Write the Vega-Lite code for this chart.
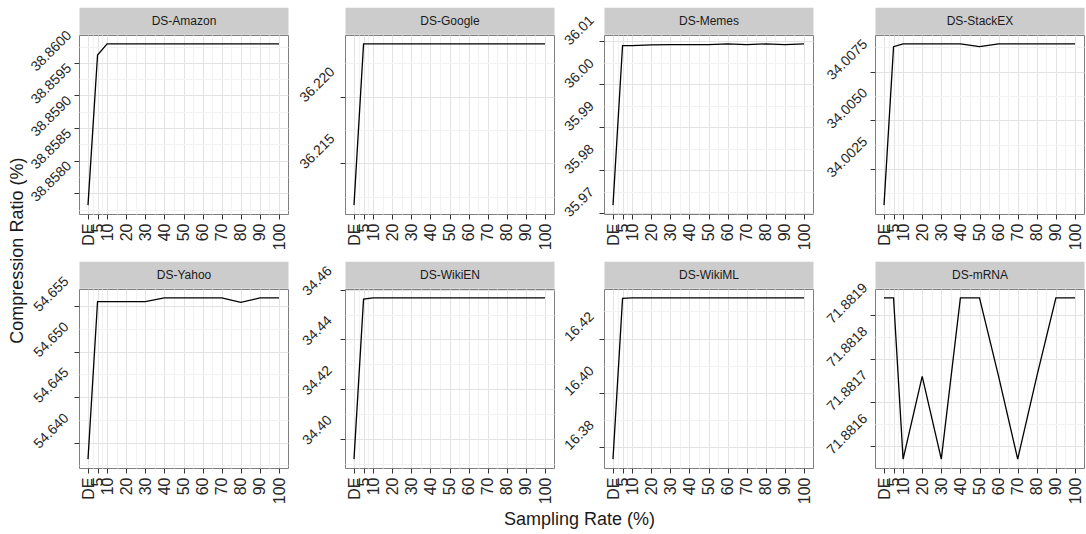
{
  "$schema": "https://vega.github.io/schema/vega-lite/v6.json",
  "padding": {"left": 8, "top": 6, "right": 1, "bottom": 3},
  "autosize": {"type": "pad"},
  "title": {"text": "Compression Ratio (%)", "orient": "left", "anchor": "middle", "fontSize": 18, "fontWeight": "normal", "color": "#1a1a1a", "offset": 0, "dx": 17},
  "datasets": {
    "d": [
      {"panel": "DS-Amazon", "rate": 0, "ratio": 38.85782},
      {"panel": "DS-Amazon", "rate": 5, "ratio": 38.86012},
      {"panel": "DS-Amazon", "rate": 10, "ratio": 38.86029},
      {"panel": "DS-Amazon", "rate": 20, "ratio": 38.86029},
      {"panel": "DS-Amazon", "rate": 30, "ratio": 38.86029},
      {"panel": "DS-Amazon", "rate": 40, "ratio": 38.86029},
      {"panel": "DS-Amazon", "rate": 50, "ratio": 38.86029},
      {"panel": "DS-Amazon", "rate": 60, "ratio": 38.86029},
      {"panel": "DS-Amazon", "rate": 70, "ratio": 38.86029},
      {"panel": "DS-Amazon", "rate": 80, "ratio": 38.86029},
      {"panel": "DS-Amazon", "rate": 90, "ratio": 38.86029},
      {"panel": "DS-Amazon", "rate": 100, "ratio": 38.86029},
      {"panel": "DS-Google", "rate": 0, "ratio": 36.21187},
      {"panel": "DS-Google", "rate": 5, "ratio": 36.22395},
      {"panel": "DS-Google", "rate": 10, "ratio": 36.22395},
      {"panel": "DS-Google", "rate": 20, "ratio": 36.22395},
      {"panel": "DS-Google", "rate": 30, "ratio": 36.22395},
      {"panel": "DS-Google", "rate": 40, "ratio": 36.22395},
      {"panel": "DS-Google", "rate": 50, "ratio": 36.22395},
      {"panel": "DS-Google", "rate": 60, "ratio": 36.22395},
      {"panel": "DS-Google", "rate": 70, "ratio": 36.22395},
      {"panel": "DS-Google", "rate": 80, "ratio": 36.22395},
      {"panel": "DS-Google", "rate": 90, "ratio": 36.22395},
      {"panel": "DS-Google", "rate": 100, "ratio": 36.22395},
      {"panel": "DS-Memes", "rate": 0, "ratio": 35.97184},
      {"panel": "DS-Memes", "rate": 5, "ratio": 36.00901},
      {"panel": "DS-Memes", "rate": 10, "ratio": 36.00901},
      {"panel": "DS-Memes", "rate": 20, "ratio": 36.00916},
      {"panel": "DS-Memes", "rate": 30, "ratio": 36.00924},
      {"panel": "DS-Memes", "rate": 40, "ratio": 36.00924},
      {"panel": "DS-Memes", "rate": 50, "ratio": 36.00924},
      {"panel": "DS-Memes", "rate": 60, "ratio": 36.00939},
      {"panel": "DS-Memes", "rate": 70, "ratio": 36.00924},
      {"panel": "DS-Memes", "rate": 80, "ratio": 36.00939},
      {"panel": "DS-Memes", "rate": 90, "ratio": 36.00924},
      {"panel": "DS-Memes", "rate": 100, "ratio": 36.00939},
      {"panel": "DS-StackEX", "rate": 0, "ratio": 34.00065},
      {"panel": "DS-StackEX", "rate": 5, "ratio": 34.00878},
      {"panel": "DS-StackEX", "rate": 10, "ratio": 34.00892},
      {"panel": "DS-StackEX", "rate": 20, "ratio": 34.00892},
      {"panel": "DS-StackEX", "rate": 30, "ratio": 34.00892},
      {"panel": "DS-StackEX", "rate": 40, "ratio": 34.00892},
      {"panel": "DS-StackEX", "rate": 50, "ratio": 34.00878},
      {"panel": "DS-StackEX", "rate": 60, "ratio": 34.00892},
      {"panel": "DS-StackEX", "rate": 70, "ratio": 34.00892},
      {"panel": "DS-StackEX", "rate": 80, "ratio": 34.00892},
      {"panel": "DS-StackEX", "rate": 90, "ratio": 34.00892},
      {"panel": "DS-StackEX", "rate": 100, "ratio": 34.00892},
      {"panel": "DS-Yahoo", "rate": 0, "ratio": 54.6382},
      {"panel": "DS-Yahoo", "rate": 5, "ratio": 54.6555},
      {"panel": "DS-Yahoo", "rate": 10, "ratio": 54.6555},
      {"panel": "DS-Yahoo", "rate": 20, "ratio": 54.6555},
      {"panel": "DS-Yahoo", "rate": 30, "ratio": 54.6555},
      {"panel": "DS-Yahoo", "rate": 40, "ratio": 54.6559},
      {"panel": "DS-Yahoo", "rate": 50, "ratio": 54.6559},
      {"panel": "DS-Yahoo", "rate": 60, "ratio": 54.6559},
      {"panel": "DS-Yahoo", "rate": 70, "ratio": 54.6559},
      {"panel": "DS-Yahoo", "rate": 80, "ratio": 54.6554},
      {"panel": "DS-Yahoo", "rate": 90, "ratio": 54.6559},
      {"panel": "DS-Yahoo", "rate": 100, "ratio": 54.6559},
      {"panel": "DS-WikiEN", "rate": 0, "ratio": 34.3919},
      {"panel": "DS-WikiEN", "rate": 5, "ratio": 34.4562},
      {"panel": "DS-WikiEN", "rate": 10, "ratio": 34.4567},
      {"panel": "DS-WikiEN", "rate": 20, "ratio": 34.4567},
      {"panel": "DS-WikiEN", "rate": 30, "ratio": 34.4567},
      {"panel": "DS-WikiEN", "rate": 40, "ratio": 34.4567},
      {"panel": "DS-WikiEN", "rate": 50, "ratio": 34.4567},
      {"panel": "DS-WikiEN", "rate": 60, "ratio": 34.4567},
      {"panel": "DS-WikiEN", "rate": 70, "ratio": 34.4567},
      {"panel": "DS-WikiEN", "rate": 80, "ratio": 34.4567},
      {"panel": "DS-WikiEN", "rate": 90, "ratio": 34.4567},
      {"panel": "DS-WikiEN", "rate": 100, "ratio": 34.4567},
      {"panel": "DS-WikiML", "rate": 0, "ratio": 16.3756},
      {"panel": "DS-WikiML", "rate": 5, "ratio": 16.4348},
      {"panel": "DS-WikiML", "rate": 10, "ratio": 16.435},
      {"panel": "DS-WikiML", "rate": 20, "ratio": 16.435},
      {"panel": "DS-WikiML", "rate": 30, "ratio": 16.435},
      {"panel": "DS-WikiML", "rate": 40, "ratio": 16.435},
      {"panel": "DS-WikiML", "rate": 50, "ratio": 16.435},
      {"panel": "DS-WikiML", "rate": 60, "ratio": 16.435},
      {"panel": "DS-WikiML", "rate": 70, "ratio": 16.435},
      {"panel": "DS-WikiML", "rate": 80, "ratio": 16.435},
      {"panel": "DS-WikiML", "rate": 90, "ratio": 16.435},
      {"panel": "DS-WikiML", "rate": 100, "ratio": 16.435},
      {"panel": "DS-mRNA", "rate": 0, "ratio": 71.88194},
      {"panel": "DS-mRNA", "rate": 5, "ratio": 71.88194},
      {"panel": "DS-mRNA", "rate": 10, "ratio": 71.88157},
      {"panel": "DS-mRNA", "rate": 20, "ratio": 71.88176},
      {"panel": "DS-mRNA", "rate": 30, "ratio": 71.88157},
      {"panel": "DS-mRNA", "rate": 40, "ratio": 71.88194},
      {"panel": "DS-mRNA", "rate": 50, "ratio": 71.88194},
      {"panel": "DS-mRNA", "rate": 60, "ratio": 71.88176},
      {"panel": "DS-mRNA", "rate": 70, "ratio": 71.88157},
      {"panel": "DS-mRNA", "rate": 80, "ratio": 71.88176},
      {"panel": "DS-mRNA", "rate": 90, "ratio": 71.88194},
      {"panel": "DS-mRNA", "rate": 100, "ratio": 71.88194}
    ]
  },
  "vconcat": [
    {
      "title": {"text": "Sampling Rate (%)", "orient": "bottom", "anchor": "middle", "fontSize": 18, "fontWeight": "normal", "color": "#1a1a1a", "offset": 1, "dx": 24},
      "columns": 4,
      "spacing": 0,
      "align": "each",
      "concat": [
        {
          "width": 209, "height": 179,
          "data": {"name": "d"},
          "transform": [{"filter": "datum.panel === 'DS-Amazon'"}],
          "layer": [
            {"mark": {"type": "line", "opacity": 0},
             "encoding": {
               "x": {"field": "rate", "type": "quantitative", "scale": {"zero": false, "nice": false, "padding": 9},
                     "axis": {"orient": "top", "values": [2.5, 7.5, 15, 25, 35, 45, 55, 65, 75, 85, 95], "grid": true, "gridColor": "#f2f2f2", "gridWidth": 1.2, "ticks": false, "labels": false, "domain": true, "domainColor": "#cccccc", "domainWidth": 27, "offset": 14.25, "minExtent": 13.5, "title": "DS-Amazon", "titlePadding": -13.5, "titleBaseline": "middle", "titleFontSize": 12, "titleFontWeight": "normal", "titleColor": "#1a1a1a"}},
               "y": {"field": "ratio", "type": "quantitative", "scale": {"zero": false, "nice": false, "padding": 8.9},
                     "axis": {"orient": "left", "values": [38.85775, 38.85825, 38.85875, 38.85925, 38.85975, 38.86025], "grid": true, "gridColor": "#f2f2f2", "gridWidth": 1.2, "ticks": false, "labels": false, "domain": false, "title": null}}
             }},
            {"mark": {"type": "line", "color": "#000000", "strokeWidth": 1.3},
             "encoding": {
               "x": {"field": "rate", "type": "quantitative", "scale": {"zero": false, "nice": false, "padding": 9},
                     "axis": {"orient": "bottom", "values": [0, 5, 10, 20, 30, 40, 50, 60, 70, 80, 90, 100], "labelExpr": "datum.value === 0 ? 'DE' : datum.label", "labelAngle": -90, "labelAlign": "right", "labelBaseline": "middle", "labelPadding": 4, "labelFontSize": 16, "tickSize": 5, "grid": true, "title": null, "minExtent": 44.8}},
               "y": {"field": "ratio", "type": "quantitative", "scale": {"zero": false, "nice": false, "padding": 8.9},
                     "axis": {"orient": "left", "values": [38.858, 38.8585, 38.859, 38.8595, 38.86], "format": ".4f", "labelAngle": -45, "labelAlign": "center", "labelBaseline": "middle", "labelPadding": 23, "labelOffset": -12, "labelFontSize": 14, "tickSize": 5, "grid": true, "title": null, "minExtent": 52}}
             }}
          ],
          "resolve": {"axis": {"x": "independent", "y": "independent"}}
        },
        {
          "width": 209, "height": 179,
          "data": {"name": "d"},
          "transform": [{"filter": "datum.panel === 'DS-Google'"}],
          "layer": [
            {"mark": {"type": "line", "opacity": 0},
             "encoding": {
               "x": {"field": "rate", "type": "quantitative", "scale": {"zero": false, "nice": false, "padding": 9},
                     "axis": {"orient": "top", "values": [2.5, 7.5, 15, 25, 35, 45, 55, 65, 75, 85, 95], "grid": true, "gridColor": "#f2f2f2", "gridWidth": 1.2, "ticks": false, "labels": false, "domain": true, "domainColor": "#cccccc", "domainWidth": 27, "offset": 14.25, "minExtent": 13.5, "title": "DS-Google", "titlePadding": -13.5, "titleBaseline": "middle", "titleFontSize": 12, "titleFontWeight": "normal", "titleColor": "#1a1a1a"}},
               "y": {"field": "ratio", "type": "quantitative", "scale": {"zero": false, "nice": false, "padding": 8.9},
                     "axis": {"orient": "left", "values": [36.2125, 36.2175, 36.2225], "grid": true, "gridColor": "#f2f2f2", "gridWidth": 1.2, "ticks": false, "labels": false, "domain": false, "title": null}}
             }},
            {"mark": {"type": "line", "color": "#000000", "strokeWidth": 1.3},
             "encoding": {
               "x": {"field": "rate", "type": "quantitative", "scale": {"zero": false, "nice": false, "padding": 9},
                     "axis": {"orient": "bottom", "values": [0, 5, 10, 20, 30, 40, 50, 60, 70, 80, 90, 100], "labelExpr": "datum.value === 0 ? 'DE' : datum.label", "labelAngle": -90, "labelAlign": "right", "labelBaseline": "middle", "labelPadding": 4, "labelFontSize": 16, "tickSize": 5, "grid": true, "title": null, "minExtent": 44.8}},
               "y": {"field": "ratio", "type": "quantitative", "scale": {"zero": false, "nice": false, "padding": 8.9},
                     "axis": {"orient": "left", "values": [36.215, 36.22], "format": ".3f", "labelAngle": -45, "labelAlign": "center", "labelBaseline": "middle", "labelPadding": 23, "labelOffset": -12, "labelFontSize": 14, "tickSize": 5, "grid": true, "title": null, "minExtent": 54.8}}
             }}
          ],
          "resolve": {"axis": {"x": "independent", "y": "independent"}}
        },
        {
          "width": 209, "height": 179,
          "data": {"name": "d"},
          "transform": [{"filter": "datum.panel === 'DS-Memes'"}],
          "layer": [
            {"mark": {"type": "line", "opacity": 0},
             "encoding": {
               "x": {"field": "rate", "type": "quantitative", "scale": {"zero": false, "nice": false, "padding": 9},
                     "axis": {"orient": "top", "values": [2.5, 7.5, 15, 25, 35, 45, 55, 65, 75, 85, 95], "grid": true, "gridColor": "#f2f2f2", "gridWidth": 1.2, "ticks": false, "labels": false, "domain": true, "domainColor": "#cccccc", "domainWidth": 27, "offset": 14.25, "minExtent": 13.5, "title": "DS-Memes", "titlePadding": -13.5, "titleBaseline": "middle", "titleFontSize": 12, "titleFontWeight": "normal", "titleColor": "#1a1a1a"}},
               "y": {"field": "ratio", "type": "quantitative", "scale": {"zero": false, "nice": false, "padding": 8.9},
                     "axis": {"orient": "left", "values": [35.975, 35.985, 35.995, 36.005], "grid": true, "gridColor": "#f2f2f2", "gridWidth": 1.2, "ticks": false, "labels": false, "domain": false, "title": null}}
             }},
            {"mark": {"type": "line", "color": "#000000", "strokeWidth": 1.3},
             "encoding": {
               "x": {"field": "rate", "type": "quantitative", "scale": {"zero": false, "nice": false, "padding": 9},
                     "axis": {"orient": "bottom", "values": [0, 5, 10, 20, 30, 40, 50, 60, 70, 80, 90, 100], "labelExpr": "datum.value === 0 ? 'DE' : datum.label", "labelAngle": -90, "labelAlign": "right", "labelBaseline": "middle", "labelPadding": 4, "labelFontSize": 16, "tickSize": 5, "grid": true, "title": null, "minExtent": 44.8}},
               "y": {"field": "ratio", "type": "quantitative", "scale": {"zero": false, "nice": false, "padding": 8.9},
                     "axis": {"orient": "left", "values": [35.97, 35.98, 35.99, 36.0, 36.01], "format": ".2f", "labelAngle": -45, "labelAlign": "center", "labelBaseline": "middle", "labelPadding": 20, "labelOffset": -11, "labelFontSize": 14, "tickSize": 5, "grid": true, "title": null, "minExtent": 48.4}}
             }}
          ],
          "resolve": {"axis": {"x": "independent", "y": "independent"}}
        },
        {
          "width": 209, "height": 179,
          "data": {"name": "d"},
          "transform": [{"filter": "datum.panel === 'DS-StackEX'"}],
          "layer": [
            {"mark": {"type": "line", "opacity": 0},
             "encoding": {
               "x": {"field": "rate", "type": "quantitative", "scale": {"zero": false, "nice": false, "padding": 9},
                     "axis": {"orient": "top", "values": [2.5, 7.5, 15, 25, 35, 45, 55, 65, 75, 85, 95], "grid": true, "gridColor": "#f2f2f2", "gridWidth": 1.2, "ticks": false, "labels": false, "domain": true, "domainColor": "#cccccc", "domainWidth": 27, "offset": 14.25, "minExtent": 13.5, "title": "DS-StackEX", "titlePadding": -13.5, "titleBaseline": "middle", "titleFontSize": 12, "titleFontWeight": "normal", "titleColor": "#1a1a1a"}},
               "y": {"field": "ratio", "type": "quantitative", "scale": {"zero": false, "nice": false, "padding": 8.9},
                     "axis": {"orient": "left", "values": [34.00125, 34.00375, 34.00625, 34.00875], "grid": true, "gridColor": "#f2f2f2", "gridWidth": 1.2, "ticks": false, "labels": false, "domain": false, "title": null}}
             }},
            {"mark": {"type": "line", "color": "#000000", "strokeWidth": 1.3},
             "encoding": {
               "x": {"field": "rate", "type": "quantitative", "scale": {"zero": false, "nice": false, "padding": 9},
                     "axis": {"orient": "bottom", "values": [0, 5, 10, 20, 30, 40, 50, 60, 70, 80, 90, 100], "labelExpr": "datum.value === 0 ? 'DE' : datum.label", "labelAngle": -90, "labelAlign": "right", "labelBaseline": "middle", "labelPadding": 4, "labelFontSize": 16, "tickSize": 5, "grid": true, "title": null, "minExtent": 44.8}},
               "y": {"field": "ratio", "type": "quantitative", "scale": {"zero": false, "nice": false, "padding": 8.9},
                     "axis": {"orient": "left", "values": [34.0025, 34.005, 34.0075], "format": ".4f", "labelAngle": -45, "labelAlign": "center", "labelBaseline": "middle", "labelPadding": 23, "labelOffset": -12, "labelFontSize": 14, "tickSize": 5, "grid": true, "title": null, "minExtent": 60.1}}
             }}
          ],
          "resolve": {"axis": {"x": "independent", "y": "independent"}}
        },
        {
          "width": 209, "height": 179,
          "data": {"name": "d"},
          "transform": [{"filter": "datum.panel === 'DS-Yahoo'"}],
          "layer": [
            {"mark": {"type": "line", "opacity": 0},
             "encoding": {
               "x": {"field": "rate", "type": "quantitative", "scale": {"zero": false, "nice": false, "padding": 9},
                     "axis": {"orient": "top", "values": [2.5, 7.5, 15, 25, 35, 45, 55, 65, 75, 85, 95], "grid": true, "gridColor": "#f2f2f2", "gridWidth": 1.2, "ticks": false, "labels": false, "domain": true, "domainColor": "#cccccc", "domainWidth": 27, "offset": 14.25, "minExtent": 13.5, "title": "DS-Yahoo", "titlePadding": -13.5, "titleBaseline": "middle", "titleFontSize": 12, "titleFontWeight": "normal", "titleColor": "#1a1a1a"}},
               "y": {"field": "ratio", "type": "quantitative", "scale": {"zero": false, "nice": false, "padding": 8.9},
                     "axis": {"orient": "left", "values": [54.6375, 54.6425, 54.6475, 54.6525], "grid": true, "gridColor": "#f2f2f2", "gridWidth": 1.2, "ticks": false, "labels": false, "domain": false, "title": null}}
             }},
            {"mark": {"type": "line", "color": "#000000", "strokeWidth": 1.3},
             "encoding": {
               "x": {"field": "rate", "type": "quantitative", "scale": {"zero": false, "nice": false, "padding": 9},
                     "axis": {"orient": "bottom", "values": [0, 5, 10, 20, 30, 40, 50, 60, 70, 80, 90, 100], "labelExpr": "datum.value === 0 ? 'DE' : datum.label", "labelAngle": -90, "labelAlign": "right", "labelBaseline": "middle", "labelPadding": 4, "labelFontSize": 16, "tickSize": 5, "grid": true, "title": null, "minExtent": 41}},
               "y": {"field": "ratio", "type": "quantitative", "scale": {"zero": false, "nice": false, "padding": 8.9},
                     "axis": {"orient": "left", "values": [54.64, 54.645, 54.65, 54.655], "format": ".3f", "labelAngle": -45, "labelAlign": "center", "labelBaseline": "middle", "labelPadding": 23, "labelOffset": -12, "labelFontSize": 14, "tickSize": 5, "grid": true, "title": null, "minExtent": 52}}
             }}
          ],
          "resolve": {"axis": {"x": "independent", "y": "independent"}}
        },
        {
          "width": 209, "height": 179,
          "data": {"name": "d"},
          "transform": [{"filter": "datum.panel === 'DS-WikiEN'"}],
          "layer": [
            {"mark": {"type": "line", "opacity": 0},
             "encoding": {
               "x": {"field": "rate", "type": "quantitative", "scale": {"zero": false, "nice": false, "padding": 9},
                     "axis": {"orient": "top", "values": [2.5, 7.5, 15, 25, 35, 45, 55, 65, 75, 85, 95], "grid": true, "gridColor": "#f2f2f2", "gridWidth": 1.2, "ticks": false, "labels": false, "domain": true, "domainColor": "#cccccc", "domainWidth": 27, "offset": 14.25, "minExtent": 13.5, "title": "DS-WikiEN", "titlePadding": -13.5, "titleBaseline": "middle", "titleFontSize": 12, "titleFontWeight": "normal", "titleColor": "#1a1a1a"}},
               "y": {"field": "ratio", "type": "quantitative", "scale": {"zero": false, "nice": false, "padding": 8.9},
                     "axis": {"orient": "left", "values": [34.39, 34.41, 34.43, 34.45], "grid": true, "gridColor": "#f2f2f2", "gridWidth": 1.2, "ticks": false, "labels": false, "domain": false, "title": null}}
             }},
            {"mark": {"type": "line", "color": "#000000", "strokeWidth": 1.3},
             "encoding": {
               "x": {"field": "rate", "type": "quantitative", "scale": {"zero": false, "nice": false, "padding": 9},
                     "axis": {"orient": "bottom", "values": [0, 5, 10, 20, 30, 40, 50, 60, 70, 80, 90, 100], "labelExpr": "datum.value === 0 ? 'DE' : datum.label", "labelAngle": -90, "labelAlign": "right", "labelBaseline": "middle", "labelPadding": 4, "labelFontSize": 16, "tickSize": 5, "grid": true, "title": null, "minExtent": 41}},
               "y": {"field": "ratio", "type": "quantitative", "scale": {"zero": false, "nice": false, "padding": 8.9},
                     "axis": {"orient": "left", "values": [34.4, 34.42, 34.44, 34.46], "format": ".2f", "labelAngle": -45, "labelAlign": "center", "labelBaseline": "middle", "labelPadding": 23, "labelOffset": -9, "labelFontSize": 14, "tickSize": 5, "grid": true, "title": null, "minExtent": 54.8}}
             }}
          ],
          "resolve": {"axis": {"x": "independent", "y": "independent"}}
        },
        {
          "width": 209, "height": 179,
          "data": {"name": "d"},
          "transform": [{"filter": "datum.panel === 'DS-WikiML'"}],
          "layer": [
            {"mark": {"type": "line", "opacity": 0},
             "encoding": {
               "x": {"field": "rate", "type": "quantitative", "scale": {"zero": false, "nice": false, "padding": 9},
                     "axis": {"orient": "top", "values": [2.5, 7.5, 15, 25, 35, 45, 55, 65, 75, 85, 95], "grid": true, "gridColor": "#f2f2f2", "gridWidth": 1.2, "ticks": false, "labels": false, "domain": true, "domainColor": "#cccccc", "domainWidth": 27, "offset": 14.25, "minExtent": 13.5, "title": "DS-WikiML", "titlePadding": -13.5, "titleBaseline": "middle", "titleFontSize": 12, "titleFontWeight": "normal", "titleColor": "#1a1a1a"}},
               "y": {"field": "ratio", "type": "quantitative", "scale": {"zero": false, "nice": false, "padding": 8.9},
                     "axis": {"orient": "left", "values": [16.39, 16.41, 16.43], "grid": true, "gridColor": "#f2f2f2", "gridWidth": 1.2, "ticks": false, "labels": false, "domain": false, "title": null}}
             }},
            {"mark": {"type": "line", "color": "#000000", "strokeWidth": 1.3},
             "encoding": {
               "x": {"field": "rate", "type": "quantitative", "scale": {"zero": false, "nice": false, "padding": 9},
                     "axis": {"orient": "bottom", "values": [0, 5, 10, 20, 30, 40, 50, 60, 70, 80, 90, 100], "labelExpr": "datum.value === 0 ? 'DE' : datum.label", "labelAngle": -90, "labelAlign": "right", "labelBaseline": "middle", "labelPadding": 4, "labelFontSize": 16, "tickSize": 5, "grid": true, "title": null, "minExtent": 41}},
               "y": {"field": "ratio", "type": "quantitative", "scale": {"zero": false, "nice": false, "padding": 8.9},
                     "axis": {"orient": "left", "values": [16.38, 16.4, 16.42], "format": ".2f", "labelAngle": -45, "labelAlign": "center", "labelBaseline": "middle", "labelPadding": 20, "labelOffset": -12, "labelFontSize": 14, "tickSize": 5, "grid": true, "title": null, "minExtent": 48.4}}
             }}
          ],
          "resolve": {"axis": {"x": "independent", "y": "independent"}}
        },
        {
          "width": 209, "height": 179,
          "data": {"name": "d"},
          "transform": [{"filter": "datum.panel === 'DS-mRNA'"}],
          "layer": [
            {"mark": {"type": "line", "opacity": 0},
             "encoding": {
               "x": {"field": "rate", "type": "quantitative", "scale": {"zero": false, "nice": false, "padding": 9},
                     "axis": {"orient": "top", "values": [2.5, 7.5, 15, 25, 35, 45, 55, 65, 75, 85, 95], "grid": true, "gridColor": "#f2f2f2", "gridWidth": 1.2, "ticks": false, "labels": false, "domain": true, "domainColor": "#cccccc", "domainWidth": 27, "offset": 14.25, "minExtent": 13.5, "title": "DS-mRNA", "titlePadding": -13.5, "titleBaseline": "middle", "titleFontSize": 12, "titleFontWeight": "normal", "titleColor": "#1a1a1a"}},
               "y": {"field": "ratio", "type": "quantitative", "scale": {"zero": false, "nice": false, "padding": 8.9},
                     "axis": {"orient": "left", "values": [71.88165, 71.88175, 71.88185], "grid": true, "gridColor": "#f2f2f2", "gridWidth": 1.2, "ticks": false, "labels": false, "domain": false, "title": null}}
             }},
            {"mark": {"type": "line", "color": "#000000", "strokeWidth": 1.3},
             "encoding": {
               "x": {"field": "rate", "type": "quantitative", "scale": {"zero": false, "nice": false, "padding": 9},
                     "axis": {"orient": "bottom", "values": [0, 5, 10, 20, 30, 40, 50, 60, 70, 80, 90, 100], "labelExpr": "datum.value === 0 ? 'DE' : datum.label", "labelAngle": -90, "labelAlign": "right", "labelBaseline": "middle", "labelPadding": 4, "labelFontSize": 16, "tickSize": 5, "grid": true, "title": null, "minExtent": 41}},
               "y": {"field": "ratio", "type": "quantitative", "scale": {"zero": false, "nice": false, "padding": 8.9},
                     "axis": {"orient": "left", "values": [71.8816, 71.8817, 71.8818, 71.8819], "format": ".4f", "labelAngle": -45, "labelAlign": "center", "labelBaseline": "middle", "labelPadding": 23, "labelOffset": -12, "labelFontSize": 14, "tickSize": 5, "grid": true, "title": null, "minExtent": 60.1}}
             }}
          ],
          "resolve": {"axis": {"x": "independent", "y": "independent"}}
        }
      ]
    }
  ],
  "config": {
    "font": "Liberation Sans",
    "view": {"stroke": "#7f7f7f", "strokeWidth": 1},
    "axis": {"labelFont": "Liberation Sans", "titleFont": "Liberation Sans", "labelColor": "#262626", "tickColor": "#333333", "tickWidth": 1, "gridColor": "#e3e3e3", "gridWidth": 1, "labelFlush": false, "labelOverlap": false, "domain": false},
    "title": {"font": "Liberation Sans"}
  }
}
